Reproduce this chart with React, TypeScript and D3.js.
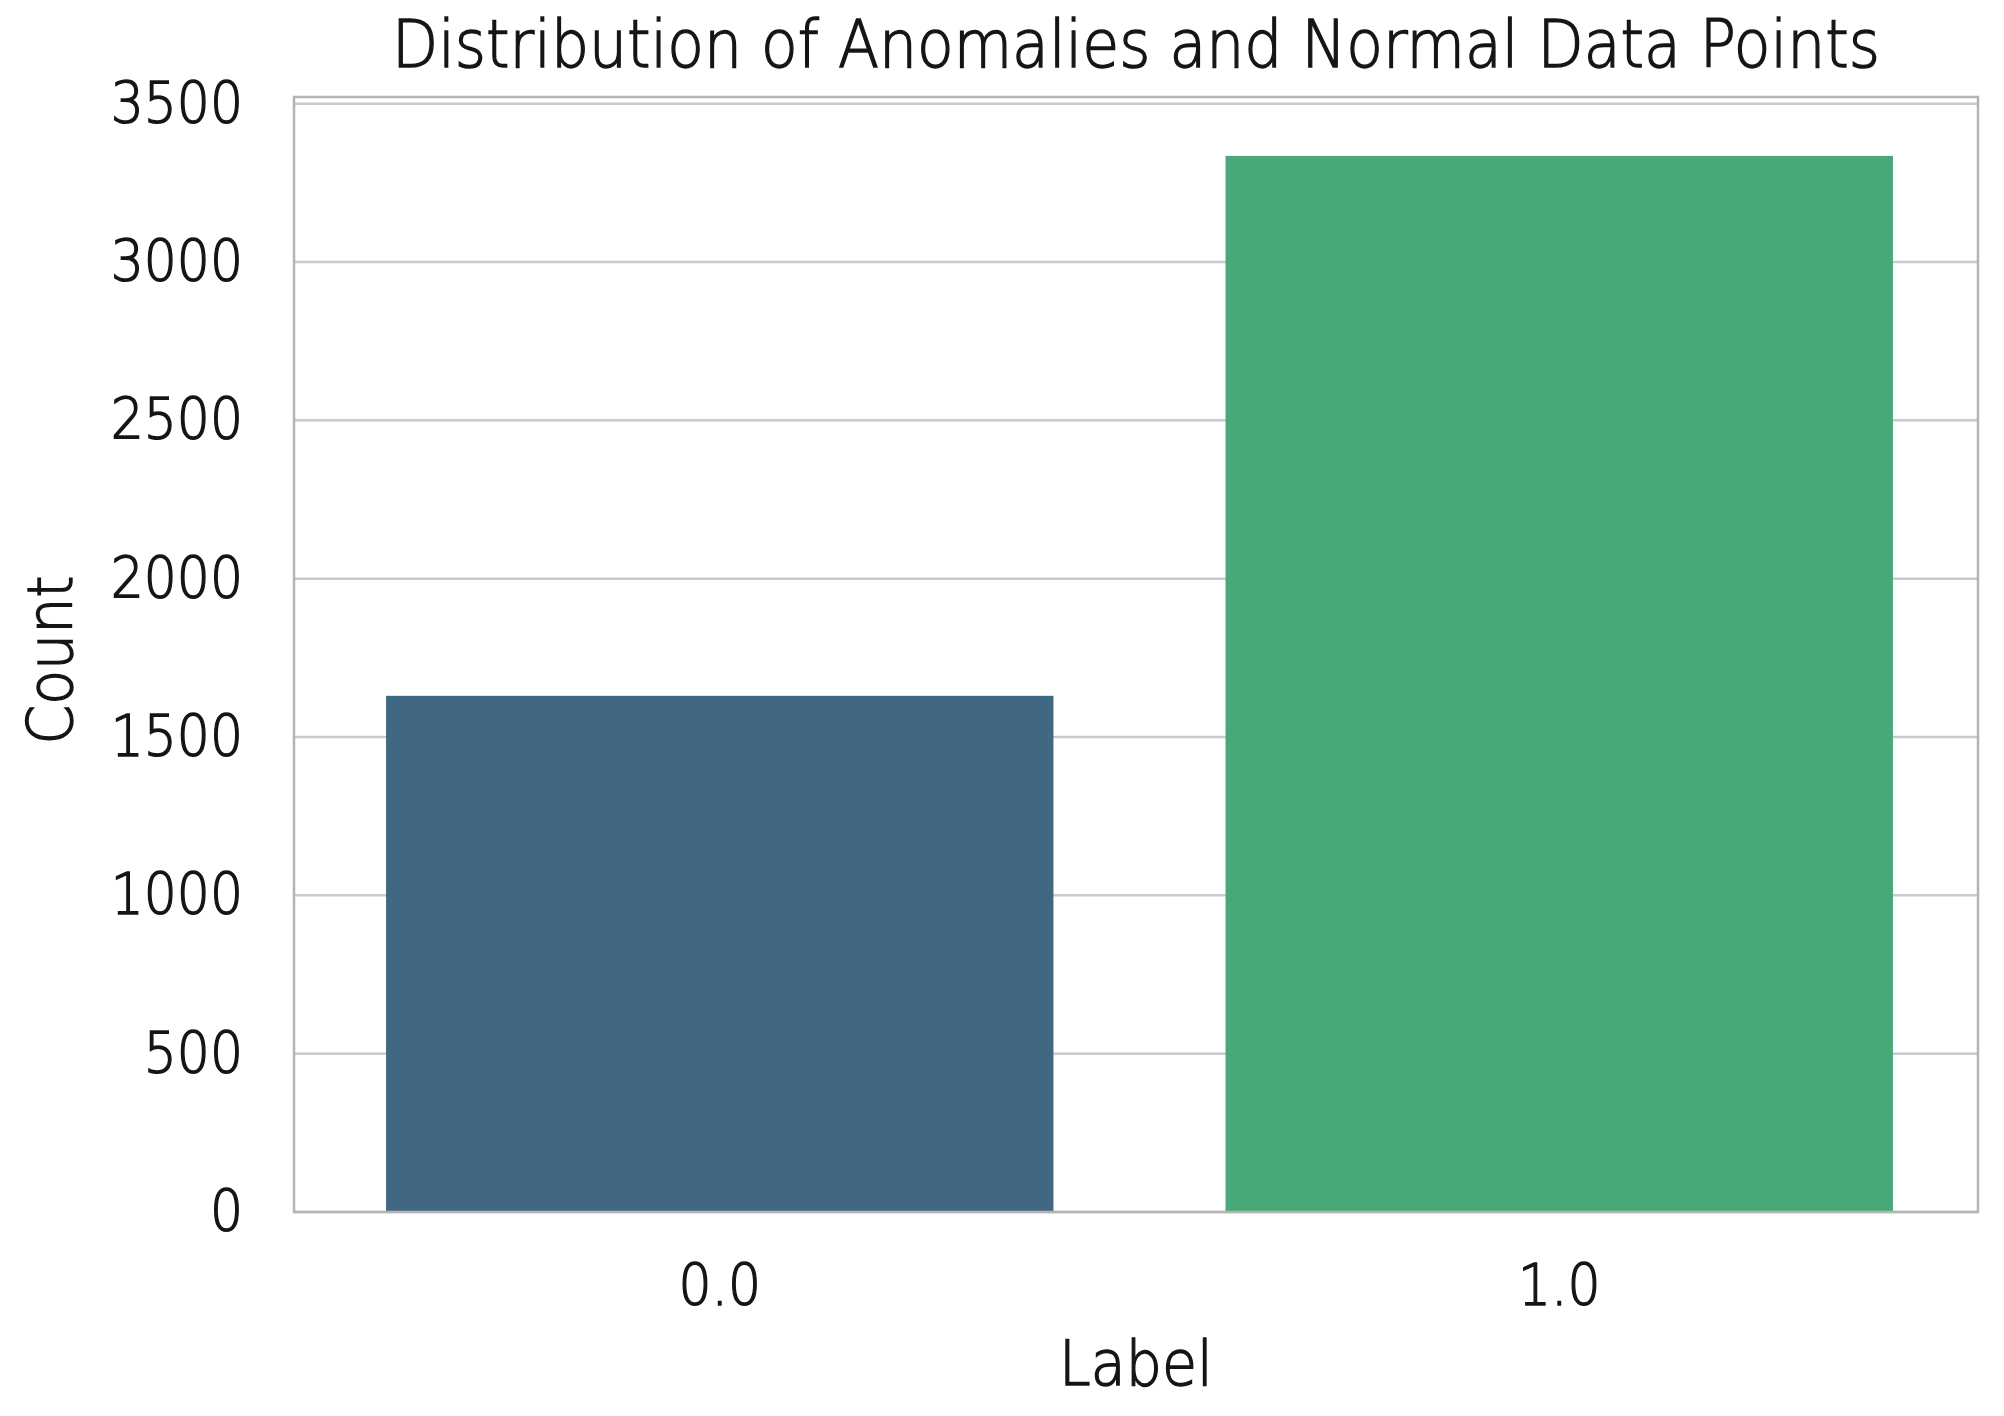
import React from "react";
import * as d3 from "d3";

const categories = ["0.0", "1.0"];
const counts = [1630, 3335];
const barColors = ["#416883", "#48a878"];
const yTicks = [0, 500, 1000, 1500, 2000, 2500, 3000, 3500];
const title = "Distribution of Anomalies and Normal Data Points";
const xLabel = "Label";
const yLabel = "Count";

const W = 2004;
const H = 1416;
const m = { left: 294, right: 1978, top: 97, bottom: 1212 };
const SY = 1.1;

export default function App() {
  const x = d3
    .scaleBand<string>()
    .domain(categories)
    .range([300, 1979])
    .paddingInner(0.205)
    .paddingOuter(0.1025);
  const y = d3.scaleLinear().domain([0, 3521]).range([m.bottom, m.top]);
  const font = "DejaVu Sans, sans-serif";
  const textColor = "#151515";
  const weight = 300;
  const textProps = { fill: textColor, stroke: textColor, strokeWidth: 1.3 };
  return (
    <svg width={W} height={H} style={{ position: "absolute", left: 0, top: 0, background: "#fff" }} fontFamily={font} fontWeight={weight}>
      <rect x={0} y={0} width={W} height={H} fill="#ffffff" />
      {yTicks.map((t) => (
        <line key={"g" + t} x1={m.left} x2={m.right} y1={y(t)} y2={y(t)} stroke="#c9c9d2" strokeWidth={2.5} />
      ))}
      {categories.map((c, i) => (
        <rect key={c} x={x(c)} y={y(counts[i])} width={x.bandwidth()} height={y(0) - y(counts[i])} fill={barColors[i]} />
      ))}
      <rect x={m.left} y={m.top} width={m.right - m.left} height={m.bottom - m.top} fill="none" stroke="#b4b4b4" strokeWidth={2.5} />
      {yTicks.map((t) => (
        <text
          key={"t" + t}
          transform={`translate(243, ${y(t) + 19}) scale(1, ${SY})`}
          textAnchor="end"
          fontSize={52}
          {...textProps}
        >
          {t}
        </text>
      ))}
      {categories.map((c) => (
        <text
          key={"x" + c}
          transform={`translate(${(x(c) as number) + x.bandwidth() / 2}, 1305) scale(1, ${SY})`}
          textAnchor="middle"
          fontSize={52}
          {...textProps}
        >
          {c}
        </text>
      ))}
      <text transform={`translate(${(m.left + m.right) / 2}, 1385) scale(1, ${SY})`} textAnchor="middle" fontSize={57} {...textProps}>
        {xLabel}
      </text>
      <text transform={`translate(72, 660) rotate(-90) scale(1, ${SY})`} textAnchor="middle" fontSize={57} {...textProps}>
        {yLabel}
      </text>
      <text transform={`translate(${(m.left + m.right) / 2}, 67) scale(1, ${SY})`} textAnchor="middle" fontSize={60} {...textProps}>
        {title}
      </text>
    </svg>
  );
}
